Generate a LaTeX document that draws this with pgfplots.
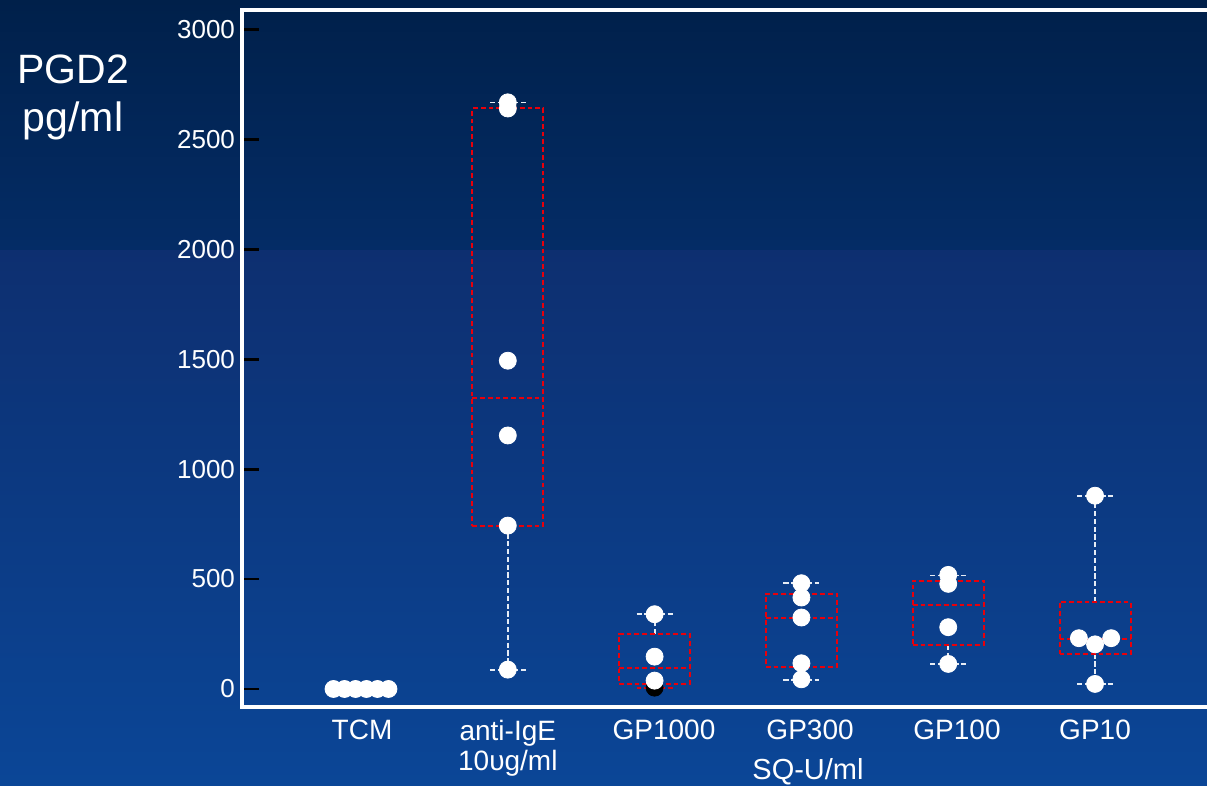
\documentclass[border=0pt]{standalone}
\usepackage{pgfplots}
\pgfplotsset{compat=1.18}
\usepackage{fontspec}
\setmainfont{Liberation Sans}
\definecolor{bgtop}{HTML}{00204A}
\definecolor{bgmidA}{HTML}{042C66}
\definecolor{bgmidB}{HTML}{0D2F70}
\definecolor{bgbot}{HTML}{0B4697}
\definecolor{boxred}{HTML}{E8000A}
\definecolor{wh}{HTML}{E6ECF5}
\begin{document}
\begin{tikzpicture}
\useasboundingbox (-121pt,-39.5pt) rectangle (482.5pt,353.5pt);
\shade[bottom color=bgbot, top color=bgmidB] (-121pt,-39.5pt) rectangle (482.5pt,228.5pt);
\shade[bottom color=bgmidA, top color=bgtop] (-121pt,228.5pt) rectangle (482.5pt,353.5pt);
\begin{axis}[
  at={(0pt,0pt)}, anchor=south west,
  scale only axis, width=495pt, height=348.5pt,
  xmin=-0.8106, xmax=5.933, ymin=-81.9, ymax=3088,
  axis line style={white, line width=2pt},
  ytick={0,500,1000,1500,2000,2500,3000},
  ytick pos=left, tick align=inside,
  major tick length=8.5pt,
  ytick style={black, line width=1.4pt},
  xtick={0.007,1,2.064,3.059,4.06,5},
  xticklabels={TCM,{anti-IgE\\10υg/ml},GP1000,GP300,GP100,GP10},
  xtick style={draw=none},
  xticklabel style={white, align=center, font=\fontsize{14}{15}\selectfont, yshift=-3pt},
  yticklabel style={white, font=\fontsize{13}{14}\selectfont},
  /pgf/number format/assume math mode=true,
  /pgf/number format/1000 sep={},
  clip=false,
  boxst/.style={draw=boxred, dash pattern=on 2.4pt off 1.5pt, line width=1pt, mark=none},
  whst/.style={draw=wh, dash pattern=on 2.6pt off 1.3pt, line width=0.9pt, mark=none},
]
% ---- anti-IgE (x=1)
\addplot[whst] coordinates {(1,743) (1,88)};
\addplot[whst] coordinates {(0.8775,88) (1.1225,88)};
\addplot[whst] coordinates {(1,2640) (1,2667)};
\addplot[whst] coordinates {(0.8775,2667) (1.1225,2667)};
\addplot[boxst] coordinates {(0.758,743) (1.242,743) (1.242,2640) (0.758,2640) (0.758,743)};
\addplot[boxst] coordinates {(0.758,1323) (1.242,1323)};
% ---- GP1000 (x=2)
\addplot[whst] coordinates {(2,23) (2,3)};
\addplot[boxst] coordinates {(1.8775,3) (2.1225,3)};
\addplot[whst] coordinates {(2,249) (2,340)};
\addplot[whst] coordinates {(1.8775,340) (2.1225,340)};
\addplot[boxst] coordinates {(1.758,23) (2.242,23) (2.242,249) (1.758,249) (1.758,23)};
\addplot[boxst] coordinates {(1.758,94) (2.242,94)};
% ---- GP300 (x=3)
\addplot[whst] coordinates {(3,102) (3,41)};
\addplot[whst] coordinates {(2.8775,41) (3.1225,41)};
\addplot[whst] coordinates {(3,434) (3,481)};
\addplot[whst] coordinates {(2.8775,481) (3.1225,481)};
\addplot[boxst] coordinates {(2.758,102) (3.242,102) (3.242,434) (2.758,434) (2.758,102)};
\addplot[boxst] coordinates {(2.758,322) (3.242,322)};
% ---- GP100 (x=4)
\addplot[whst] coordinates {(4,200) (4,114)};
\addplot[whst] coordinates {(3.8775,114) (4.1225,114)};
\addplot[whst] coordinates {(4,493) (4,516)};
\addplot[whst] coordinates {(3.8775,516) (4.1225,516)};
\addplot[boxst] coordinates {(3.758,200) (4.242,200) (4.242,493) (3.758,493) (3.758,200)};
\addplot[boxst] coordinates {(3.758,382) (4.242,382)};
% ---- GP10 (x=5)
\addplot[whst] coordinates {(5,161) (5,23)};
\addplot[whst] coordinates {(4.8775,23) (5.1225,23)};
\addplot[whst] coordinates {(5,396) (5,879)};
\addplot[whst] coordinates {(4.8775,879) (5.1225,879)};
\addplot[boxst] coordinates {(4.758,161) (5.242,161) (5.242,396) (4.758,396) (4.758,161)};
\addplot[boxst] coordinates {(4.758,229) (5.242,229)};
% black point
\addplot[only marks, mark=*, mark size=4.25pt, mark options={draw=black, fill=black}] coordinates {(2,6)};
% white points
\addplot[only marks, mark=*, mark size=4.25pt, mark options={draw=white, fill=white}] coordinates {
(-0.187,0) (-0.112,0) (-0.037,0) (0.037,0) (0.112,0) (0.187,0)
(1,2668) (1,2640) (1,1493) (1,1153) (1,743) (1,88)
(2,340) (2,147) (2,38)
(3,481) (3,416) (3,325) (3,117) (3,44)
(4,519) (4,478) (4,281) (4,114)
(5,879) (4.89,231) (5.11,231) (5,203) (5,23)
};
\end{axis}
\node[white, font=\fontsize{14.5}{16}\selectfont] at (283pt,-32.5pt) {SQ-U/ml};
\node[white, align=center, font=\fontsize{20.5}{24}\selectfont] at (-84.5pt,305pt) {PGD2\\pg/ml};
\end{tikzpicture}
\end{document}
